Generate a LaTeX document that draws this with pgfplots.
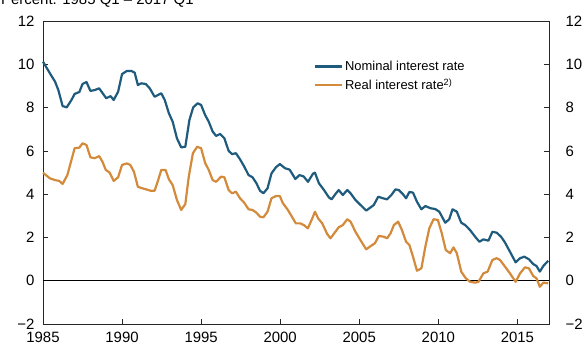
\documentclass[border=0pt]{standalone}
\usepackage{pgfplots}
\pgfplotsset{compat=1.18}
\usepackage{fontspec}
\setmainfont{Liberation Sans}

\definecolor{nomblue}{HTML}{1F5B7D}
\definecolor{realorange}{HTML}{D38B3B}

\pgfplotstableread{
year rate
1985.00 10.12
1985.44 9.58
1985.76 9.20
1985.97 8.81
1986.24 8.07
1986.50 8.01
1986.80 8.35
1987.00 8.63
1987.30 8.72
1987.50 9.09
1987.75 9.18
1988.00 8.77
1988.28 8.81
1988.55 8.89
1989.00 8.43
1989.27 8.53
1989.47 8.35
1989.75 8.73
1990.00 9.55
1990.30 9.69
1990.60 9.69
1990.80 9.61
1991.00 9.04
1991.20 9.12
1991.50 9.09
1991.75 8.89
1992.06 8.50
1992.27 8.58
1992.48 8.66
1992.70 8.35
1992.96 7.74
1993.20 7.35
1993.47 6.58
1993.74 6.16
1994.00 6.19
1994.26 7.43
1994.50 8.01
1994.78 8.20
1995.00 8.12
1995.25 7.66
1995.48 7.35
1995.73 6.89
1995.95 6.69
1996.20 6.78
1996.47 6.58
1996.74 6.00
1996.95 5.85
1997.20 5.89
1997.46 5.61
1997.73 5.27
1998.00 4.88
1998.25 4.78
1998.50 4.50
1998.72 4.16
1998.94 4.04
1999.20 4.27
1999.45 4.96
1999.73 5.24
1999.98 5.39
2000.30 5.20
2000.60 5.13
2000.96 4.70
2001.22 4.88
2001.48 4.82
2001.76 4.57
2002.08 4.95
2002.20 4.99
2002.45 4.50
2002.77 4.19
2003.08 3.85
2003.25 3.76
2003.50 4.01
2003.70 4.19
2003.96 3.96
2004.24 4.19
2004.45 4.04
2004.76 3.73
2005.08 3.50
2005.44 3.24
2005.72 3.39
2005.92 3.50
2006.20 3.88
2006.50 3.81
2006.76 3.76
2007.03 3.96
2007.29 4.22
2007.50 4.19
2007.75 4.01
2007.96 3.81
2008.17 4.10
2008.40 4.07
2008.65 3.65
2008.93 3.30
2009.18 3.45
2009.50 3.35
2009.81 3.31
2010.06 3.19
2010.44 2.68
2010.69 2.84
2010.90 3.30
2011.17 3.19
2011.45 2.68
2011.70 2.57
2012.01 2.34
2012.33 2.03
2012.60 1.80
2012.85 1.91
2013.17 1.85
2013.42 2.26
2013.69 2.22
2013.97 2.03
2014.22 1.76
2014.53 1.34
2014.89 0.85
2015.17 1.04
2015.44 1.11
2015.73 0.99
2016.00 0.77
2016.21 0.68
2016.42 0.42
2016.64 0.68
2016.95 0.92
}\nominal

\pgfplotstableread{
year rate
1985.00 4.99
1985.44 4.73
1985.76 4.65
1986.03 4.61
1986.24 4.47
1986.54 4.88
1986.80 5.58
1987.00 6.12
1987.30 6.15
1987.50 6.35
1987.75 6.27
1988.00 5.70
1988.28 5.66
1988.55 5.76
1988.76 5.50
1988.97 5.12
1989.22 4.99
1989.47 4.61
1989.75 4.78
1990.00 5.35
1990.30 5.42
1990.52 5.35
1990.75 5.04
1991.00 4.34
1991.28 4.27
1991.53 4.22
1991.79 4.16
1992.06 4.16
1992.27 4.62
1992.48 5.12
1992.75 5.12
1992.96 4.69
1993.20 4.42
1993.47 3.73
1993.74 3.27
1994.00 3.54
1994.22 4.81
1994.48 5.89
1994.75 6.19
1995.00 6.12
1995.25 5.45
1995.48 5.12
1995.73 4.65
1995.95 4.57
1996.26 4.81
1996.47 4.78
1996.74 4.19
1996.95 4.04
1997.20 4.11
1997.46 3.81
1997.73 3.60
1998.00 3.30
1998.25 3.27
1998.50 3.14
1998.72 2.96
1998.94 2.93
1999.20 3.19
1999.45 3.81
1999.73 3.91
1999.98 3.91
2000.17 3.58
2000.45 3.31
2000.74 2.96
2000.99 2.65
2001.27 2.65
2001.50 2.57
2001.75 2.42
2002.03 2.88
2002.20 3.19
2002.40 2.88
2002.66 2.65
2002.97 2.16
2003.18 1.96
2003.45 2.22
2003.70 2.47
2003.96 2.57
2004.24 2.84
2004.45 2.73
2004.76 2.26
2005.14 1.80
2005.44 1.45
2005.72 1.60
2005.99 1.73
2006.24 2.07
2006.56 2.03
2006.76 1.96
2006.98 2.19
2007.19 2.57
2007.46 2.73
2007.70 2.34
2007.96 1.80
2008.17 1.65
2008.40 1.11
2008.65 0.46
2008.93 0.57
2009.18 1.57
2009.43 2.42
2009.70 2.84
2009.97 2.81
2010.22 2.19
2010.47 1.42
2010.75 1.27
2010.96 1.54
2011.17 1.27
2011.45 0.42
2011.74 0.11
2012.01 -0.05
2012.33 -0.09
2012.54 -0.05
2012.85 0.34
2013.12 0.42
2013.42 0.96
2013.69 1.04
2013.90 0.96
2014.22 0.65
2014.53 0.34
2014.89 -0.05
2015.17 0.34
2015.48 0.62
2015.73 0.57
2016.00 0.22
2016.21 0.11
2016.42 -0.28
2016.64 -0.09
2016.95 -0.12
}\real

\begin{document}
\begin{tikzpicture}
  \begin{axis}[
      scale only axis,
      width=506bp, height=303bp,
      xmin=1985, xmax=2017,
      ymin=-2, ymax=12,
      axis line style={line width=0.8bp, black!85},
      tick style={line width=0.7bp, black!85},
      major tick length=5bp,
      tick align=inside,
      xtick={1985,1990,...,2015},
      xticklabels={1985,1990,1995,2000,2005,2010,2015},
      xtick pos=bottom,
      ytick={-2,0,...,12},
      yticklabels={−2,0,2,4,6,8,10,12},
      ytick pos=both,
      yticklabel pos=left,
      tick label style={font=\fontsize{15}{18}\selectfont, black},
      xticklabel style={yshift=-5bp},
      yticklabel style={xshift=-5bp},
      legend style={at={(rel axis cs:0.535,0.875)}, anchor=north west,
        draw=none, fill=none, font=\fontsize{13}{15}\selectfont,
        row sep=3bp, inner sep=0pt},
      legend cell align=left,
      legend image code/.code={\draw[#1] (0bp,0bp) -- (27bp,0bp);},
      clip=false,
    ]
    \addplot[black, line width=0.8bp, forget plot] coordinates {(1985,0) (2017,0)};
    \addplot[nomblue, line width=2.2bp, line join=round] table[x=year, y=rate] {\nominal};
    \addlegendentry{Nominal interest rate}
    \addplot[realorange, line width=2.2bp, line join=round] table[x=year, y=rate] {\real};
    \addlegendentry{Real interest rate\textsuperscript{2)}}
  \end{axis}
  \begin{axis}[
      scale only axis,
      width=506bp, height=303bp,
      xmin=1985, xmax=2017,
      ymin=-2, ymax=12,
      axis x line=none,
      axis y line*=right,
      axis line style={draw=none},
      major tick length=0pt,
      ytick={-2,0,...,12},
      yticklabels={−2,0,2,4,6,8,10,12},
      tick label style={font=\fontsize{15}{18}\selectfont, black},
      yticklabel style={xshift=13bp, anchor=west},
    ]
  \end{axis}
  \node[anchor=base west, font=\fontsize{15}{17}\selectfont, inner sep=0pt]
    at (-42bp,319bp) {Percent. 1985 Q1 – 2017 Q1};
  \pgfresetboundingbox
  \useasboundingbox (-43bp,-28bp) rectangle (541bp,324bp);
\end{tikzpicture}
\end{document}
